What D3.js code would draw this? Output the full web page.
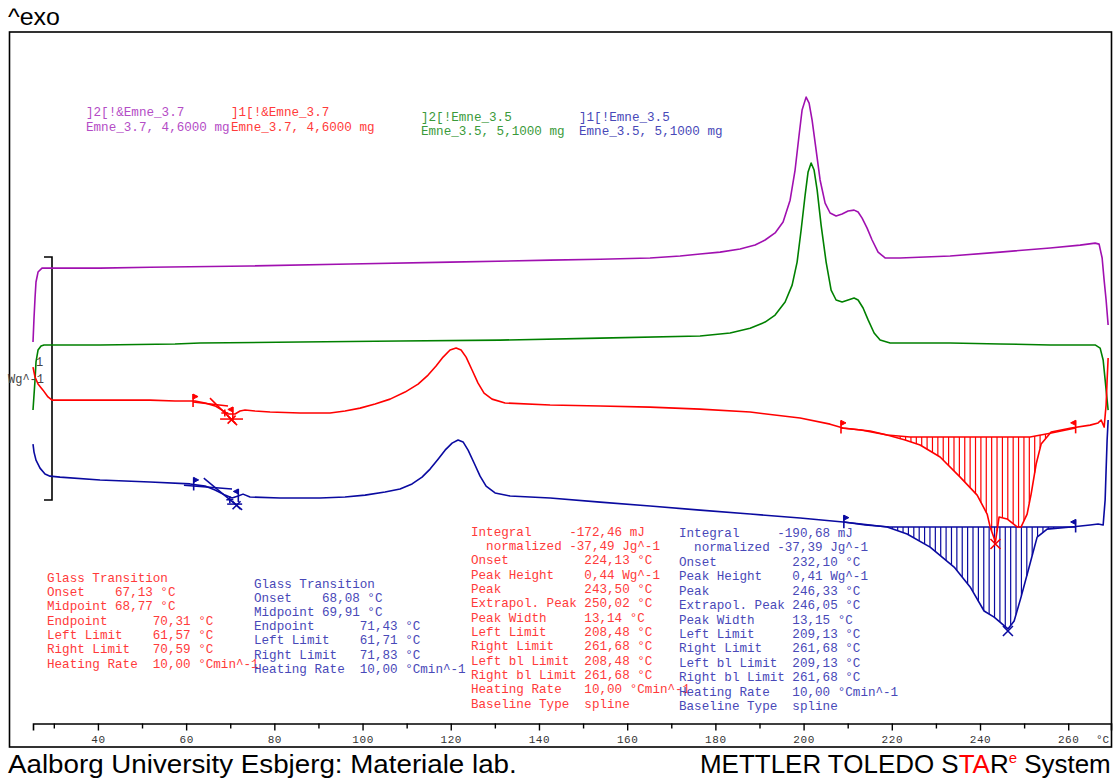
<!DOCTYPE html>
<html>
<head>
<meta charset="utf-8">
<script src="https://cdn.jsdelivr.net/npm/d3@7"></script>
<style>
  body { margin: 0; background: #fff; }
  svg { display: block; }
  .mono { font-family: "Liberation Mono", "DejaVu Sans Mono", monospace; white-space: pre; }
  .sans { font-family: "Liberation Sans", Arial, sans-serif; }
</style>
</head>
<body>
<svg id="chart" width="1114" height="782"></svg>
<script>
// ---- DSC curves: temperature (°C) vs heat flow (Wg^-1, curves stacked with offsets) ----
const curvePurple = [
  [25.28,1.568],[25.51,1.667],[25.74,1.749],[25.96,1.815],[26.42,1.856],[27.32,1.872],
  [40.48,1.872],[51.81,1.876],[74.49,1.881],[97.17,1.889],[119.84,1.897],[142.52,1.905],
  [153.86,1.909],[165.19,1.914],[172.0,1.922],[176.53,1.930],[181.07,1.938],[185.6,1.951],
  [189.0,1.967],[191.27,1.988],[193.54,2.017],[195.35,2.062],[196.94,2.152],[198.07,2.276],
  [198.98,2.420],[199.66,2.523],[200.57,2.576],[201.25,2.551],[201.93,2.481],[202.84,2.358],
  [203.74,2.235],[204.88,2.140],[206.01,2.099],[207.37,2.087],[208.73,2.095],[210.09,2.107],
  [211.45,2.111],[212.36,2.103],[213.27,2.078],[214.40,2.037],[215.53,1.988],[216.89,1.938],
  [218.48,1.914],[221.88,1.914],[233.22,1.922],[244.56,1.938],[255.9,1.955],[262.7,1.967],
  [266.1,1.975],[267.0,1.971],[267.69,1.914],[268.14,1.823],[268.59,1.741],[269.05,1.638]
];
const curveGreen = [
  [25.28,1.288],[25.51,1.350],[25.74,1.412],[25.96,1.486],[26.42,1.535],[27.10,1.552],
  [27.78,1.556],[40.48,1.556],[57.48,1.560],[63.15,1.564],[85.83,1.568],[108.5,1.572],
  [131.18,1.576],[153.86,1.584],[176.53,1.593],[183.34,1.605],[187.87,1.625],[191.27,1.650],
  [193.54,1.679],[195.81,1.733],[197.4,1.802],[198.53,1.897],[199.44,2.029],[200.35,2.173],
  [201.02,2.268],[201.71,2.305],[202.38,2.276],[203.07,2.194],[203.97,2.049],[205.11,1.897],
  [206.24,1.782],[207.37,1.741],[208.73,1.733],[210.09,1.741],[211.45,1.749],[212.36,1.741],
  [213.49,1.708],[214.63,1.659],[215.99,1.605],[217.35,1.576],[219.62,1.564],[233.22,1.564],
  [244.56,1.560],[255.9,1.556],[266.1,1.556],[267.24,1.543],[267.92,1.494],[268.37,1.412],
  [268.82,1.329],[269.05,1.288]
];
const curveRed = [
  [25.28,1.465],[25.74,1.424],[26.42,1.395],[27.55,1.370],[28.68,1.342],[29.59,1.329],
  [40.48,1.329],[51.81,1.329],[57.48,1.325],[62.02,1.325],[64.29,1.317],[66.55,1.305],
  [68.14,1.288],[69.5,1.272],[71.09,1.272],[72.22,1.284],[73.36,1.288],[75.62,1.284],
  [79.03,1.280],[85.83,1.276],[92.63,1.276],[96.03,1.284],[99.44,1.296],[102.84,1.313],
  [106.24,1.333],[109.64,1.362],[112.59,1.395],[114.86,1.432],[116.67,1.469],[118.26,1.506],
  [119.84,1.535],[121.21,1.543],[122.34,1.535],[123.48,1.506],[124.83,1.453],[126.19,1.399],
  [127.55,1.358],[129.37,1.333],[132.31,1.317],[142.52,1.309],[153.86,1.305],[165.19,1.300],
  [176.53,1.292],[187.87,1.280],[199.21,1.255],[206.01,1.230],[208.96,1.214],[215.08,1.202],
  [218.94,1.185],[223.02,1.165],[226.42,1.144],[230.95,1.095],[235.5,1.012],[239.35,0.938],
  [241.62,0.860],[242.29,0.807],[243.5,0.745],[244.33,0.848],[246.14,0.840],[248.41,0.807],
  [249.32,0.807],[250.68,0.860],[251.59,0.942],[252.73,1.066],[253.86,1.148],[256.13,1.198],
  [260.67,1.214],[264.97,1.226],[266.78,1.235],[267.47,1.247],[268.14,1.218],[268.59,1.309],
  [268.82,1.412],[269.05,1.502]
];
const curveBlue = [
  [25.28,1.148],[25.51,1.115],[25.96,1.082],[26.87,1.049],[28.0,1.025],[29.14,1.016],
  [31.41,1.012],[40.48,1.000],[51.81,0.992],[60.88,0.984],[64.29,0.975],[66.55,0.959],
  [68.82,0.938],[70.41,0.926],[71.77,0.934],[72.9,0.942],[74.49,0.930],[81.29,0.926],
  [90.36,0.926],[96.03,0.930],[100.57,0.938],[105.1,0.951],[108.5,0.963],[111.23,0.984],
  [113.49,1.012],[115.31,1.045],[117.12,1.086],[118.71,1.123],[120.3,1.152],[121.66,1.165],
  [122.79,1.157],[123.93,1.123],[125.29,1.070],[126.65,1.016],[128.01,0.975],[130.05,0.947],
  [133.45,0.934],[142.52,0.926],[153.86,0.909],[165.19,0.893],[176.53,0.876],[187.87,0.860],
  [199.21,0.844],[208.96,0.827],[215.08,0.815],[218.94,0.807],[223.47,0.778],[228.69,0.724],
  [234.13,0.642],[237.76,0.560],[240.93,0.461],[243.2,0.436],[246.33,0.387],[247.74,0.420],
  [249.32,0.519],[251.14,0.642],[252.95,0.765],[255.22,0.798],[260.67,0.807],[264.97,0.815],
  [266.78,0.819],[267.92,0.815],[268.37,0.918],[268.59,1.041],[268.82,1.165],[269.05,1.247]
];

// spline baselines under the melting peaks
const baselineRed = [[208.48,1.214],[213.0,1.206],[218.94,1.185],[224.15,1.177],[251.36,1.177],[255.9,1.193],[261.68,1.214]];
const baselineBlue = [[209.13,0.827],[214.0,0.815],[219.5,0.807],[261.68,0.807]];

// evaluation results
const peakRed  = { left: 208.48, right: 261.68, peak: 243.50 };
const peakBlue = { left: 209.13, right: 261.68, peak: 246.33 };
const glassRed  = { left: 61.57, right: 70.59, onset: 67.13, mid: 68.77, end: 70.31 };
const glassBlue = { left: 61.71, right: 71.83, onset: 68.08, mid: 69.91, end: 71.43 };

// glass-transition construction lines (pre-baseline, post-baseline, inflection tangent)
const glassLinesRed = [
  [[61.57,1.321],[69.5,1.305]],
  [[67.7,1.251],[72.9,1.251]],
  [[65.4,1.337],[71.55,1.226]]
];
const glassLinesBlue = [
  [[59.5,0.979],[70.4,0.963]],
  [[69.3,0.901],[72.7,0.901]],
  [[64.0,1.008],[72.7,0.877]]
];

// axis ticks
const majorTicks = [40,60,80,100,120,140,160,180,200,220,240,260];
const minorTicks = [30,50,70,90,110,130,150,170,190,210,230,250];

// sample legend (two lines each)
const legendPurple = ["]2[!&Emne_3.7", "Emne_3.7, 4,6000 mg"];
const legendRed    = ["]1[!&Emne_3.7", "Emne_3.7, 4,6000 mg"];
const legendGreen  = ["]2[!Emne_3.5",  "Emne_3.5, 5,1000 mg"];
const legendBlue   = ["]1[!Emne_3.5",  "Emne_3.5, 5,1000 mg"];

// evaluation text blocks
const textGlassRed = [
  "Glass Transition",
  "Onset    67,13 °C",
  "Midpoint 68,77 °C",
  "Endpoint      70,31 °C",
  "Left Limit    61,57 °C",
  "Right Limit   70,59 °C",
  "Heating Rate  10,00 °Cmin^-1"
];
const textGlassBlue = [
  "Glass Transition",
  "Onset    68,08 °C",
  "Midpoint 69,91 °C",
  "Endpoint      71,43 °C",
  "Left Limit    61,71 °C",
  "Right Limit   71,83 °C",
  "Heating Rate  10,00 °Cmin^-1"
];
const textPeakRed = [
  "Integral     -172,46 mJ",
  "  normalized -37,49 Jg^-1",
  "Onset          224,13 °C",
  "Peak Height    0,44 Wg^-1",
  "Peak           243,50 °C",
  "Extrapol. Peak 250,02 °C",
  "Peak Width     13,14 °C",
  "Left Limit     208,48 °C",
  "Right Limit    261,68 °C",
  "Left bl Limit  208,48 °C",
  "Right bl Limit 261,68 °C",
  "Heating Rate   10,00 °Cmin^-1",
  "Baseline Type  spline"
];
const textPeakBlue = [
  "Integral     -190,68 mJ",
  "  normalized -37,39 Jg^-1",
  "Onset          232,10 °C",
  "Peak Height    0,41 Wg^-1",
  "Peak           246,33 °C",
  "Extrapol. Peak 246,05 °C",
  "Peak Width     13,15 °C",
  "Left Limit     209,13 °C",
  "Right Limit    261,68 °C",
  "Left bl Limit  209,13 °C",
  "Right bl Limit 261,68 °C",
  "Heating Rate   10,00 °Cmin^-1",
  "Baseline Type  spline"
];

// ---- drawing ----
const svg = d3.select("#chart");
const C = {
  purple: "#a010b0", green: "#008000", red: "#ff0000", blue: "#0a0aa0",
  purpleText: "#b44cc6", greenText: "#3a9a3a", redText: "#ff3a3a", blueText: "#4848b8"
};

const x = d3.scaleLinear().domain([25.28, 269.7]).range([33, 1111]);
const y = d3.scaleLinear().domain([0, 2.844]).range([723, 32]);

// linear lookup of a curve at temperature t
function valueAt(curve, t) {
  const i = d3.bisector(d => d[0]).left(curve, t);
  if (i <= 0) return curve[0][1];
  if (i >= curve.length) return curve[curve.length - 1][1];
  const a = curve[i - 1], b = curve[i];
  return a[1] + (b[1] - a[1]) * (t - a[0]) / (b[0] - a[0]);
}

// frame
svg.append("rect").attr("x", 9.5).attr("y", 32).attr("width", 1102).attr("height", 715)
  .attr("fill", "none").attr("stroke", "#000").attr("stroke-width", 1.6);

// x axis (ticks below the line)
const axisG = svg.append("g").attr("transform", "translate(0,723.5)");
axisG.call(d3.axisBottom(x).tickValues(majorTicks).tickSize(7).tickPadding(5).tickFormat(d3.format("d")));
axisG.select(".domain").attr("stroke-width", 1.6);
axisG.selectAll(".tick line").attr("stroke-width", 1.4);
axisG.selectAll(".tick text").attr("class", "mono").attr("font-size", 11).attr("fill", "#333")
  .attr("letter-spacing", 0.6);
const minorG = svg.append("g").attr("transform", "translate(0,723.5)");
minorG.call(d3.axisBottom(x).tickValues(minorTicks).tickSize(5).tickFormat(""));
minorG.select(".domain").remove();
minorG.selectAll(".tick line").attr("stroke-width", 1.4);
svg.append("text").attr("class", "mono").attr("x", 1096).attr("y", 743)
  .attr("font-size", 11).attr("fill", "#333").text("°C");

// scale bar: 1 Wg^-1
const sbTop = y(1.918), sbBot = y(0.918);
svg.append("path").attr("fill", "none").attr("stroke", "#000").attr("stroke-width", 1.6)
  .attr("d", `M44,${sbTop} H52 V${sbBot} H44`);
svg.append("text").attr("class", "mono").attr("x", 36).attr("y", 366).attr("font-size", 12).attr("fill", "#444").text("1");
svg.append("text").attr("class", "mono").attr("x", 8).attr("y", 383).attr("font-size", 12).attr("fill", "#444").text("Wg^-1");

// curves
const line = d3.line().x(d => x(d[0])).y(d => y(d[1]));
const curves = [
  [curvePurple, C.purple], [curveGreen, C.green], [curveRed, C.red], [curveBlue, C.blue]
];

// hatching between baseline and curve
function hatch(curve, base, pk, color) {
  const g = svg.append("g").attr("stroke", color).attr("stroke-width", 1.2);
  for (let t = pk.left; t <= pk.right; t += 1.22) {
    const cv = valueAt(curve, t), bv = valueAt(base, t);
    if (bv - cv > 0.006) {
      g.append("line").attr("x1", x(t)).attr("x2", x(t)).attr("y1", y(bv)).attr("y2", y(cv));
    }
  }
  svg.append("path").attr("fill", "none").attr("stroke", color).attr("stroke-width", 1.5)
    .attr("d", line(base));
}
hatch(curveRed, baselineRed, peakRed, C.red);
hatch(curveBlue, baselineBlue, peakBlue, C.blue);

curves.forEach(([data, color]) => {
  svg.append("path").datum(data).attr("fill", "none").attr("stroke", color)
    .attr("stroke-width", 1.6).attr("stroke-linejoin", "round").attr("d", line);
});

// limit flag marker
function flag(curve, t, dir, color) {
  const px = x(t), py = y(valueAt(curve, t));
  svg.append("path").attr("stroke", color).attr("stroke-width", 1.6).attr("fill", "none")
    .attr("d", `M${px},${py - 7} V${py + 6}`);
  svg.append("path").attr("fill", color).attr("stroke", color).attr("stroke-width", 1)
    .attr("d", `M${px},${py - 7} L${px + 5 * dir},${py - 4.5} L${px},${py - 2} Z`);
}
function cross(px, py, s, color) {
  svg.append("path").attr("stroke", color).attr("stroke-width", 1.6).attr("fill", "none")
    .attr("d", `M${px - s},${py - s} L${px + s},${py + s} M${px - s},${py + s} L${px + s},${py - s}`);
}
function plus(px, py, s, color) {
  svg.append("path").attr("stroke", color).attr("stroke-width", 1.6).attr("fill", "none")
    .attr("d", `M${px - s},${py} H${px + s} M${px},${py - s} V${py + s}`);
}

// melting peak markers
[[curveRed, peakRed, C.red], [curveBlue, peakBlue, C.blue]].forEach(([cv, pk, col]) => {
  flag(cv, pk.left, 1, col);
  flag(cv, pk.right, -1, col);
  cross(x(pk.peak), y(valueAt(cv, pk.peak)) + 2, 5, col);
});

// glass transition constructions
[[curveRed, glassRed, glassLinesRed, C.red], [curveBlue, glassBlue, glassLinesBlue, C.blue]].forEach(([cv, gt, lines, col]) => {
  lines.forEach(seg => {
    svg.append("path").attr("stroke", col).attr("stroke-width", 1.5).attr("fill", "none").attr("d", line(seg));
  });
  flag(cv, gt.left, 1, col);
  flag(cv, gt.right, -1, col);
  const tg = lines[2];
  const lerp = t => tg[0][1] + (tg[1][1] - tg[0][1]) * (t - tg[0][0]) / (tg[1][0] - tg[0][0]);
  plus(x(gt.mid), y(lerp(gt.mid)), 3.5, col);
  cross(x(gt.end), y(lerp(gt.end)), 4, col);
});

// legend
function block(lines, x0, y0, lh, color) {
  const t = svg.append("text").attr("class", "mono").attr("font-size", 12.6).attr("fill", color);
  lines.forEach((s, i) => t.append("tspan").attr("x", x0).attr("y", y0 + i * lh).text(s));
}
block(legendPurple, 86, 116, 15, C.purpleText);
block(legendRed, 231, 116, 15, C.redText);
block(legendGreen, 421, 121, 14, C.greenText);
block(legendBlue, 579, 121, 14, C.blueText);

// evaluation texts
block(textGlassRed, 47, 581.5, 14.35, C.redText);
block(textGlassBlue, 254, 587.5, 14.2, C.blueText);
block(textPeakRed, 471, 535.5, 14.35, C.redText);
block(textPeakBlue, 679, 537, 14.42, C.blueText);

// header / footer texts, fitted to width
function fitted(sel, x0, yb, width) {
  const w = sel.node().getComputedTextLength();
  sel.attr("transform", `translate(${x0},${yb}) scale(${width / w},1)`);
}
const exo = svg.append("text").attr("class", "sans").attr("font-size", 23).attr("fill", "#000").text("^exo");
fitted(exo, 8, 25, 52);
const uni = svg.append("text").attr("class", "sans").attr("font-size", 26).attr("fill", "#000")
  .text("Aalborg University Esbjerg: Materiale lab.");
fitted(uni, 8, 773, 509);
const mt = svg.append("text").attr("class", "sans").attr("font-size", 26).attr("fill", "#000");
mt.append("tspan").text("METTLER TOLEDO S");
mt.append("tspan").attr("fill", "#ff0000").text("TA");
mt.append("tspan").text("R");
mt.append("tspan").attr("fill", "#ff0000").attr("font-size", 15).attr("dy", -10).text("e");
mt.append("tspan").attr("dy", 10).text(" System");
fitted(mt, 700, 773, 411);
</script>
</body>
</html>
